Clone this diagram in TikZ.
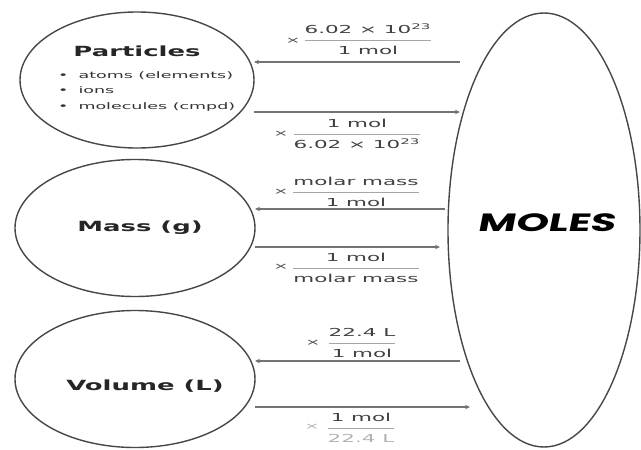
\documentclass[tikz,border=0pt]{standalone}
\usepackage{fontspec}
\setmainfont{DejaVu Sans}
\newfontfamily\molesfont{Poppins}[FakeSlant=0.12]
\usepackage{graphicx}
\usepackage{colortbl}
\usetikzlibrary{shapes.geometric,arrows.meta}
\newcommand\sx[1]{\scalebox{1.95}[1]{#1}}
\newcommand\st[1]{\scalebox{1.85}[1]{#1}}
\arrayrulecolor{black!35}
\newcommand\fr[2]{\sx{\begin{tabular}{@{}c@{}}#1\\\hline #2\end{tabular}}}
\begin{document}
\begin{tikzpicture}[x=1pt,y=-1pt,
  ell/.style={draw=black!72, line width=1.4pt, ellipse, inner sep=0pt, outer sep=0pt},
  arr/.style={draw=black!55, line width=1.1pt, -{Stealth[length=5pt,width=4.5pt]}},
  lab/.style={inner sep=0pt, text=black!75, font=\fontsize{11}{20}\selectfont},
  tms/.style={inner sep=0pt, text=black!70, font=\fontsize{9}{11}\selectfont},
  ttl/.style={inner sep=0pt, text=black!85, font=\bfseries\fontsize{14}{16}\selectfont},
  faded/.style={text=black!30}]
\useasboundingbox (0,0) rectangle (641,450);
\fill[white] (0,0) rectangle (641,450);
% ellipses
\node[ell, minimum width=234pt, minimum height=136pt] (particles) at (137,80) {};
\node[ell, minimum width=240pt, minimum height=137pt] (mass) at (135,228) {};
\node[ell, minimum width=240pt, minimum height=137pt] (volume) at (135,379) {};
\node[ell, minimum width=192pt, minimum height=434pt] (moles) at (544,230) {};
% texts in ellipses
\node[ttl] (ptitle) at (137,51) {\st{Particles}};
\node[inner sep=0pt, anchor=west, text=black!80, font=\fontsize{9}{15.5}\selectfont] (plist) at (58,90.5)
  {\scalebox{1.94}[1]{\begin{tabular}{@{}l@{}}\makebox[10.5pt][l]{•}atoms (elements)\\\makebox[10.5pt][l]{•}ions\\\makebox[10.5pt][l]{•}molecules (cmpd)\end{tabular}}};
\node[ttl] (mtitle) at (140,228) {\st{Mass (g)}};
\node[ttl] (vtitle) at (145,386) {\st{Volume (L)}};
\node[inner sep=0pt, font=\molesfont\bfseries\fontsize{25}{28}\selectfont] (mtext) at (546,223) {\scalebox{1.65}[1]{MOLES}};
% arrow end coordinates
\coordinate (r1t) at (460,62);
\coordinate (r1b) at (460,112);
\coordinate (r2t) at (445,209);
\coordinate (r2b) at (440,247);
\coordinate (r3t) at (460,361);
\coordinate (r3b) at (470,407);
\draw[arr] (r1t) -- (r1t -| particles.east);
\draw[arr] (r1b -| particles.east) -- (r1b);
\draw[arr] (r2t) -- (r2t -| mass.east);
\draw[arr] (r2b -| mass.east) -- (r2b);
\draw[arr] (r3t) -- (r3t -| volume.east);
\draw[arr] (r3b -| volume.east) -- (r3b);
% labels
\node[tms] (x1) at (293,41) {\sx{×}};
\node[lab] (f1) at (368,40) {\fr{6.02 × 10\textsuperscript{23}}{1 mol}};
\node[tms] (x2) at (281,134) {\sx{×}};
\node[lab] (f2) at (357,134) {\fr{1 mol}{6.02 × 10\textsuperscript{23}}};
\node[tms] (x3) at (281,192) {\sx{×}};
\node[lab] (f3) at (356,192) {\fr{molar mass}{1 mol}};
\node[tms] (x4) at (281,267) {\sx{×}};
\node[lab] (f4) at (356,268) {\fr{1 mol}{molar mass}};
\node[tms] (x5) at (313,343) {\sx{×}};
\node[lab] (f5) at (362,343) {\fr{22.4 L}{1 mol}};
\node[tms, faded] (x6) at (312,427) {\sx{×}};
\node[lab] (f6) at (361,428) {\sx{\begin{tabular}{@{}c@{}}1 mol\\\hline \color{black!30}22.4 L\end{tabular}}};
\end{tikzpicture}
\end{document}
